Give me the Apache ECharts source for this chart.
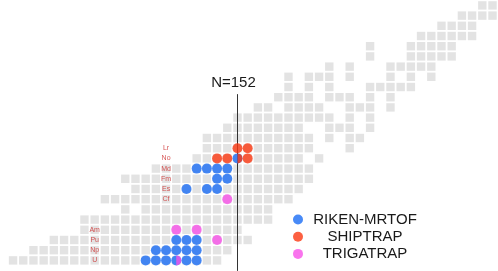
<!DOCTYPE html>
<html><head><meta charset="utf-8">
<script src="https://cdn.jsdelivr.net/npm/echarts@6/dist/echarts.min.js"></script>
<style>html,body{margin:0;padding:0;background:#fff}#c{width:498px;height:271px}</style>
</head><body><div id="c"></div>
<script>
// Known nuclides (grey cells): [Z, [N ...]]
const knownRows = [
  [117, [176,177]],
  [116, [174,175,176,177]],
  [115, [172,173,174,175]],
  [114, [170,171,172,173,174,175]],
  [113, [165,169,170,171,172,173]],
  [112, [165,169,170,171,172,173]],
  [111, [161,163,167,168,169,170,171]],
  [110, [157,159,160,161,163,167,169,171]],
  [109, [157,159,161,165,166,167,168,169]],
  [108, [156,157,158,159,161,162,163,165,167]],
  [107, [154,155,157,158,159,160,163,164,165,167]],
  [106, [152,153,154,155,156,157,158,159,160,161,163,165]],
  [105, [151,152,153,154,155,156,157,158,161,162,163,165]],
  [104, [149,150,151,152,153,154,155,156,157,158,159,161,163,164]],
  [103, [149,150,151,152,153,154,155,156,157,158,159,163]],
  [102, [148,149,150,151,152,153,154,155,156,157,158,160]],
  [101, [144,145,146,147,148,149,150,151,152,153,154,155,156,157,158,159]],
  [100, [141,142,143,144,145,146,147,148,149,150,151,152,153,154,155,156,157,158,159]],
  [99,  [142,143,144,145,146,147,148,149,150,151,152,153,154,155,156,157,158]],
  [98,  [139,140,141,142,143,144,145,146,147,148,149,150,151,152,153,154,155,156,157]],
  [97,  [141,143,144,145,146,147,148,149,150,151,152,153,154,155]],
  [96,  [137,138,139,140,141,142,143,144,145,146,147,148,149,150,151,152,153,154,155]],
  [95,  [137,138,139,140,141,142,143,144,145,146,147,148,149,150,151,152]],
  [94,  [134,135,136,137,138,139,140,141,142,143,144,145,146,147,148,149,150,151,152,153]],
  [93,  [132,133,134,135,136,137,138,139,140,141,142,143,144,145,146,147,148,149,150,151]],
  [92,  [130,131,132,133,134,135,136,137,138,139,140,141,142,143,144,145,146,147,148,149,150]]
];
// Measured nuclides [N, Z]
const rikenMrtof = [
  [143,92],[144,92],[145,92],[146,92],[147,92],[148,92],
  [144,93],[145,93],[146,93],[147,93],[148,93],
  [146,94],[147,94],[148,94],
  [147,99],[149,99],[150,99],
  [150,100],[151,100],
  [148,101],[149,101],[150,101],[151,101],
  [152,102]
];
const shiptrap = [[150,102],[151,102],[152,102],[153,102],[152,103],[153,103]];
const trigatrap = [[146,92],[150,94],[146,95],[148,95],[151,98]];
// Element labels [N, Z, symbol]
const elementLabels = [
  [145,103,'Lr'],[145,102,'No'],[145,101,'Md'],[145,100,'Fm'],[145,99,'Es'],[145,98,'Cf'],
  [138,95,'Am'],[138,94,'Pu'],[138,93,'Np'],[138,92,'U']
];
const magicN = 152;
const legendNames = ['RIKEN-MRTOF','SHIPTRAP','TRIGATRAP'];

const cells = [];
knownRows.forEach(([z, ns]) => ns.forEach(n => cells.push([n, z])));
const rikenKeys = new Set(rikenMrtof.map(p => p.join(',')));
const halfRight = 'path://M0,0 A10,10 0 0 1 0,20 Z';
function overlay(points) {
  return points.map(p => rikenKeys.has(p.join(',')) ?
    {value: p, symbol: halfRight, symbolSize: [5, 10], symbolOffset: [2.5, 0]} : p);
}
const colors = {blue: '#1a6df5', red: '#fb3812', pink: '#f851e8'};
const font = 'Liberation Sans, Arial, sans-serif';

const chart = echarts.init(document.getElementById('c'));
chart.setOption({
  animation: false,
  grid: {left: 0, right: 0, top: 0, bottom: 0},
  xAxis: {type: 'value', min: 128.72, max: 177.54, show: false},
  yAxis: {type: 'value', min: 90.96, max: 117.53, show: false},
  legend: {
    data: legendNames, orient: 'vertical', left: 288, top: 207, height: 64,
    itemWidth: 10, itemHeight: 10, itemGap: 2.2, icon: 'circle',
    formatter: n => '{a|' + n + '}',
    textStyle: {rich: {a: {width: 114, align: 'center', fontSize: 15, lineHeight: 14, color: '#1a1a1a', fontFamily: font}}}
  },
  series: [
    {type: 'scatter', name: 'known', data: cells, symbol: 'rect', symbolSize: 8.4,
     itemStyle: {color: '#dcdcdc'}, silent: true, z: 2,
     markLine: {silent: true, symbol: 'none', animation: false,
       lineStyle: {color: '#333', width: 1, type: 'solid'},
       label: {show: true, position: 'end', formatter: 'N=' + magicN, fontSize: 15, color: '#1a1a1a',
               fontFamily: font, distance: 4, padding: [0, 8, 0, 0]},
       data: [[{coord: [magicN, 90.97]}, {coord: [magicN, 108.3]}]]}},
    {type: 'scatter', name: 'labels', data: elementLabels, symbolSize: 0, z: 3, silent: true,
     label: {show: true, position: 'inside', formatter: p => p.value[2], fontSize: 7, color: '#cc2a2a',
             fontFamily: font}},
    {type: 'scatter', name: 'RIKEN-MRTOF', data: rikenMrtof, symbol: 'circle', symbolSize: 10,
     itemStyle: {color: colors.blue}, z: 5},
    {type: 'scatter', name: 'SHIPTRAP', data: overlay(shiptrap), symbol: 'circle', symbolSize: 10,
     itemStyle: {color: colors.red}, z: 6},
    {type: 'scatter', name: 'TRIGATRAP', data: overlay(trigatrap), symbol: 'circle', symbolSize: 10,
     itemStyle: {color: colors.pink}, z: 6}
  ]
});
</script></body></html>
